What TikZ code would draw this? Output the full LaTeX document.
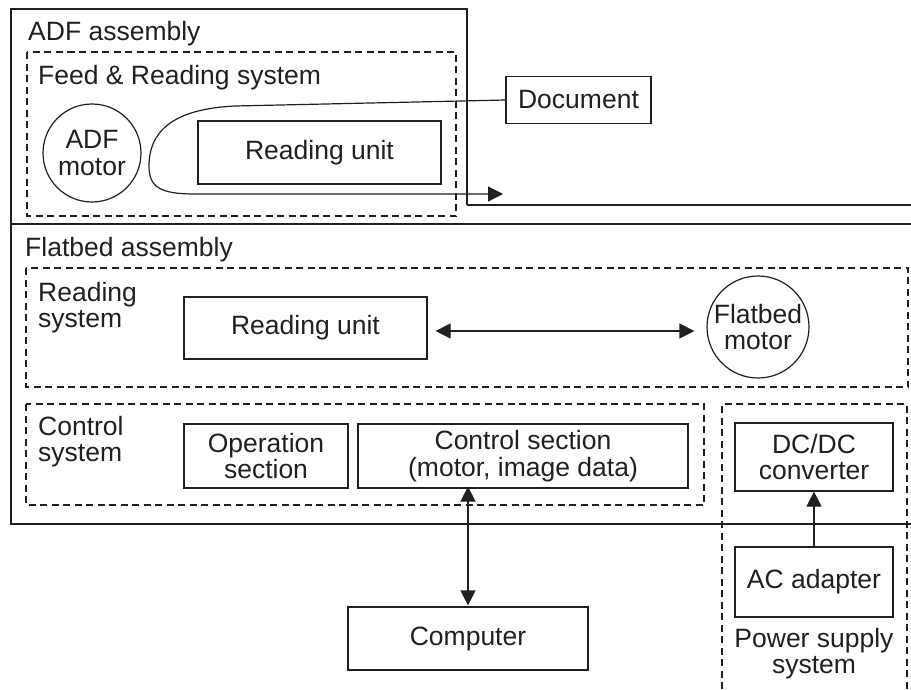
\documentclass[tikz,border=0pt]{standalone}
\usepackage{fontspec}
\setmainfont{Liberation Sans}
\usetikzlibrary{arrows.meta}
\definecolor{ink}{HTML}{231F20}
\begin{document}
\begin{tikzpicture}[x=1pt,y=-1pt,
  every node/.style={font=\fontsize{26.5}{26.5}\selectfont, text=ink, inner sep=0pt},
  solid line/.style={draw=ink, line width=1.2pt},
  group/.style={draw=ink, line width=1.1pt, dash pattern=on 7pt off 4.5pt},
  unitbox/.style={draw=ink, line width=1.2pt, align=center},
  motorcircle/.style={draw=ink, line width=1.2pt, circle, align=center},
  label/.style={anchor=north west, align=left},
  tip/.style={-{Triangle[length=15pt,width=15pt]}},
  twotip/.style={{Triangle[length=15pt,width=15pt]}-{Triangle[length=15pt,width=15pt]}}]
\useasboundingbox (0,0) rectangle (911,689);

% assembly outlines
\draw[solid line] (467,205) -- (467,9) -- (11,9) -- (11,524) -- (911,524);
\draw[solid line] (467,205) -- (911,205);
\draw[solid line] (11,224) -- (911,224);

% system groups (dashed)
\draw[group] (27,52) rectangle (456,216);
\draw[group] (26,268) rectangle (908,387);
\draw[group] (26,404) rectangle (704,505);
\draw[group] (722,689) -- (722,404) -- (907,404) -- (907,689);

% group labels
\node[label] (adfl) at (28,21) {ADF assembly};
\node[label] (feedl) at (38,65) {Feed \& Reading system};
\node[label] (flatl) at (25,237) {Flatbed assembly};
\node[label] (readl) at (38,282) {Reading\\system};
\node[label] (ctrll) at (38,416) {Control\\system};
\node[anchor=north, align=center] (pwrl) at (814,628) {Power supply\\system};

% ADF assembly
\node[motorcircle, minimum size=98pt] (adfm) at (92,153) {ADF\\motor};
\node[unitbox, minimum width=243pt, minimum height=63pt] (fru) at (319.5,152.5) {Reading unit};
\node[unitbox, minimum width=145pt, minimum height=47pt] (doc) at (578.5,100) {Document};
\coordinate (docout) at (503,194);
\draw[solid line, tip] (doc.west) -- (235,106)
  .. controls (172,109) and (149,132) .. (149,166)
  .. controls (149,187) and (160,194) .. (195,194) -- (docout);

% Flatbed assembly
\node[unitbox, minimum width=243pt, minimum height=62pt] (flu) at (305.5,328) {Reading unit};
\node[motorcircle, minimum size=102pt] (fbm) at (758,327) {Flatbed\\motor};
\draw[solid line, twotip, shorten <=8pt, shorten >=12pt] (flu.east |- 0,331) -- (fbm.west |- 0,331);

\node[unitbox, minimum width=164pt, minimum height=64pt] (ops) at (266,456) {Operation\\section};
\node[unitbox, minimum width=330pt, minimum height=64pt] (cs) at (523,456) {Control section\\(motor, image data)};

% power supply
\node[unitbox, minimum width=158pt, minimum height=68pt] (dc) at (814,457) {DC/DC\\converter};
\node[unitbox, minimum width=158pt, minimum height=70pt] (ac) at (814,582) {AC adapter};
\draw[solid line, tip] (ac.north) -- (dc.south);

% host computer
\node[unitbox, minimum width=240pt, minimum height=63pt] (pc) at (468,638.5) {Computer};
\draw[solid line, twotip, shorten <=1pt, shorten >=-2pt] (pc.north) -- (pc.north |- cs.south);
\end{tikzpicture}
\end{document}
